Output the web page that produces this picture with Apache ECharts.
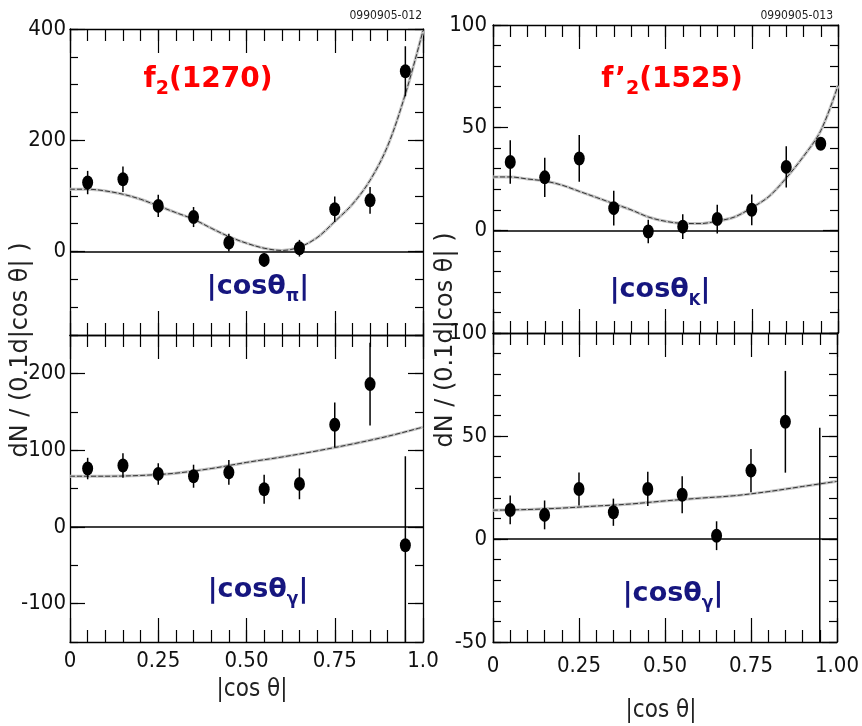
<!DOCTYPE html>
<html><head><meta charset="utf-8">
<script src="https://cdn.jsdelivr.net/npm/echarts@6/dist/echarts.min.js"></script>
<style>html,body{margin:0;padding:0;background:#fff}#c{width:862px;height:726px}</style>
</head><body><div id="c"></div>
<script>
// ---------- data ----------
const binX = [0.05,0.15,0.25,0.35,0.45,0.55,0.65,0.75,0.85,0.95];
const fitXFine = [0,0.05,0.1,0.15,0.2,0.25,0.3,0.35,0.4,0.45,0.5,0.55,0.6,0.65,0.7,0.75,0.8,0.85,0.9,0.95,1];
const fitXCoarse = [0,0.1,0.2,0.3,0.4,0.5,0.6,0.7,0.8,0.9,1];

// f2(1270), |cos theta_pi|
const f2PiVal   = [124,130,82,62,16,-15,6,76,92,324];
const f2PiErrUp = [21,23,20,18,16,12,15,23,24,45];
const f2PiErrDn = [21,23,20,18,16,12,15,23,24,45];
const f2PiFit   = [112,112,109,103,94,82,70,58,42,27,15,6,2,8,25,54,85,128,190,283,397];

// f2(1270), |cos theta_gamma|
const f2GamVal   = [76,80,69,66,71,49,56,133,186,-24];
const f2GamErrUp = [14,16,14,15,16,19,20,29,54,116];
const f2GamErrDn = [14,16,14,15,16,19,20,29,54,140];
const f2GamFit   = [66,66,67,70,76,84,91,99,108,118,130];

// f'2(1525), |cos theta_K|
const fp2KVal   = [33.3,25.8,35,10.8,-0.6,1.8,5.5,10,30.9,42.2];
const fp2KErrUp = [10.6,9.6,11.4,8.5,5.7,6,7,7.5,10,0];
const fp2KErrDn = [10.6,9.6,11.4,8.5,5.7,6,7,7.5,10,0];
const fp2KFit   = [26,26,25,24,22,19,16,13,10,6.5,4.4,3.4,3.3,4.5,6.5,11,16.5,25.5,36,48.5,70.5];

// f'2(1525), |cos theta_gamma|
const fp2GamVal   = [14.1,11.7,24.3,13,24.3,21.5,1.6,33.2,56.9,-60];
const fp2GamErrUp = [7,7,8,6.6,8.3,9,7,10.5,24.7,114];
const fp2GamErrDn = [7,7,8,6.6,8.3,9,7,10.5,24.7,114];
const fp2GamFit   = [14,14.3,15,16,17,18.5,19.8,21,23,25.5,28];

// tick labels
const xTickValues = [0,0.25,0.5,0.75,1];
const xTickLabelsLeft  = ['0','0.25','0.50','0.75','1.0'];
const xTickLabelsRight = ['0','0.25','0.50','0.75','1.00'];
const yTicksTL = [0,200,400];
const yTicksBL = [-100,0,100,200];
const yTicksTR = [0,50,100];
const yTicksBR = [-50,0,50,100];

// ---------- layout ----------
const fontNarrow = "'Liberation Sans Narrow','DejaVu Sans Condensed','Liberation Sans',sans-serif";
const panels = [
  {grid:{left:70, top:29, width:353, height:306}, yMin:-150, yMax:400, yMinor:50, yMajor:yTicksTL, yLabels:yTicksTL,
   xLabels:null, val:f2PiVal, up:f2PiErrUp, dn:f2PiErrDn, fitX:fitXFine, fit:f2PiFit, yMargin:4},
  {grid:{left:70, top:335, width:353, height:307}, yMin:-150, yMax:250, yMinor:50, yMajor:yTicksBL, yLabels:yTicksBL,
   xLabels:xTickLabelsLeft, xMargin:8, val:f2GamVal, up:f2GamErrUp, dn:f2GamErrDn, fitX:fitXCoarse, fit:f2GamFit, yMargin:4},
  {grid:{left:493, top:25, width:345, height:308}, yMin:-50, yMax:100, yMinor:10, yMajor:yTicksTR, yLabels:yTicksTR,
   xLabels:null, val:fp2KVal, up:fp2KErrUp, dn:fp2KErrDn, fitX:fitXFine, fit:fp2KFit, yMargin:6},
  {grid:{left:493, top:333, width:345, height:309}, yMin:-50, yMax:100, yMinor:10, yMajor:yTicksBR, yLabels:yTicksBR,
   xLabels:xTickLabelsRight, xMargin:13, val:fp2GamVal, up:fp2GamErrUp, dn:fp2GamErrDn, fitX:fitXCoarse, fit:fp2GamFit, yMargin:6}
];

const tickLine = {color:'#000', width:1.2};
const labelStyle = {fontSize:22, fontFamily:fontNarrow, color:'#111'};
const grids = [], xAxes = [], yAxes = [], series = [];

panels.forEach((p, g) => {
  grids.push(Object.assign({show:false, containLabel:false}, p.grid));
  const xb = {type:'value', gridIndex:g, min:0, max:1, splitLine:{show:false},
              axisLine:{show:true, onZero:false, lineStyle:{color:'#000', width:1.3}}, axisLabel:{show:false}};
  const xLab = p.xLabels ? Object.assign({show:true, customValues:xTickValues, margin:p.xMargin,
      formatter: v => { const i = xTickValues.findIndex(t => Math.abs(t - v) < 1e-6); return i >= 0 ? p.xLabels[i] : ''; }}, labelStyle)
      : {show:false};
  xAxes.push(Object.assign({}, xb, {position:'bottom', interval:0.05, axisTick:{inside:true, length:12, lineStyle:tickLine}, axisLabel:xLab}));
  xAxes.push(Object.assign({}, xb, {position:'bottom', axisLine:{show:false, onZero:false}, axisTick:{inside:true, length:24, customValues:xTickValues, lineStyle:tickLine}}));
  xAxes.push(Object.assign({}, xb, {position:'top', interval:0.05, axisTick:{inside:true, length:12, lineStyle:tickLine}}));
  xAxes.push(Object.assign({}, xb, {position:'top', axisLine:{show:false, onZero:false}, axisTick:{inside:true, length:24, customValues:xTickValues, lineStyle:tickLine}}));

  const yb = {type:'value', gridIndex:g, min:p.yMin, max:p.yMax, splitLine:{show:false},
              axisLine:{show:true, onZero:false, lineStyle:{color:'#000', width:1.3}}, axisLabel:{show:false}};
  yAxes.push(Object.assign({}, yb, {position:'left', interval:p.yMinor, axisTick:{inside:true, length:8, lineStyle:tickLine},
      axisLabel:Object.assign({show:true, customValues:p.yLabels, margin:p.yMargin, formatter: v => String(v)}, labelStyle)}));
  yAxes.push(Object.assign({}, yb, {position:'left', axisLine:{show:false, onZero:false}, axisTick:{inside:true, length:15, customValues:p.yMajor, lineStyle:tickLine}}));
  yAxes.push(Object.assign({}, yb, {position:'right', interval:p.yMinor, axisTick:{inside:true, length:8, lineStyle:tickLine}}));
  yAxes.push(Object.assign({}, yb, {position:'right', axisLine:{show:false, onZero:false}, axisTick:{inside:true, length:15, customValues:p.yMajor, lineStyle:tickLine}}));

  const xi = 4 * g, yi = 4 * g;
  const fitData = p.fitX.map((x, i) => [x, p.fit[i]]);
  series.push({type:'line', xAxisIndex:xi, yAxisIndex:yi, data:fitData, smooth:0.35, showSymbol:false, silent:true,
               lineStyle:{color:'#c4c4c4', width:3}, z:2});
  series.push({type:'line', xAxisIndex:xi, yAxisIndex:yi, data:fitData, smooth:0.35, showSymbol:false, silent:true,
               lineStyle:{color:'#333', width:1, type:[5,2]}, z:3});
  series.push({type:'custom', xAxisIndex:xi, yAxisIndex:yi, clip:true, silent:true, z:4,
    data: binX.map((x, i) => [x, p.val[i] - p.dn[i], p.val[i] + p.up[i]]),
    encode:{x:0, y:[1,2]},
    renderItem: (params, api) => {
      const a = api.coord([api.value(0), api.value(1)]);
      const b = api.coord([api.value(0), api.value(2)]);
      return {type:'line', shape:{x1:a[0], y1:a[1], x2:b[0], y2:b[1]}, style:{stroke:'#000', lineWidth:1.5}};
    }});
  series.push({type:'scatter', xAxisIndex:xi, yAxisIndex:yi, clip:true, silent:true, z:5,
    data: binX.map((x, i) => [x, p.val[i]]), symbol:'circle', symbolSize:[11,14], itemStyle:{color:'#000', opacity:1},
    markLine:{silent:true, symbol:['none','none'], label:{show:false}, lineStyle:{color:'#000', width:1.5, type:'solid'},
              data:[{yAxis:0}]}});
});

const red = '#ff0000', navy = '#16167f';
const annFont = "'Comic Sans MS','DejaVu Sans',sans-serif";
function richTitle(x, y, main1, sub, main2, color, size, subSize) {
  return {type:'text', x:x, y:y, z:100, style:{
    text:'{a|' + main1 + '}{s|' + sub + '}{a|' + main2 + '}',
    align:'center', verticalAlign:'middle',
    rich:{
      a:{fontSize:size, fontWeight:'bold', fontFamily:annFont, fill:color, color:color, lineHeight:size + 2},
      s:{fontSize:subSize, fontWeight:'bold', fontFamily:annFont, fill:color, color:color, verticalAlign:'bottom', lineHeight:size + 10}
    }}};
}
const yTitle = 'dN / (0.1d|cos θ| )';
const graphic = [
  {type:'text', x:422, y:16, style:{text:'0990905-012', align:'right', verticalAlign:'middle', fontSize:12, fontFamily:fontNarrow, fill:'#222'}},
  {type:'text', x:833, y:16, style:{text:'0990905-013', align:'right', verticalAlign:'middle', fontSize:12, fontFamily:fontNarrow, fill:'#222'}},
  richTitle(208, 80, 'f', '2', '(1270)', red, 28, 19),
  richTitle(672, 80, 'f\u2019', '2', '(1525)', red, 28, 19),
  richTitle(258, 287, '|cosθ', 'π', '|', navy, 27, 17),
  richTitle(660, 290, '|cosθ', 'K', '|', navy, 27, 15),
  richTitle(258, 590, '|cosθ', 'γ', '|', navy, 27, 17),
  richTitle(673, 594, '|cosθ', 'γ', '|', navy, 27, 17),
  {type:'text', x:21, y:350, rotation:Math.PI/2, style:{text:yTitle, align:'center', verticalAlign:'middle', fontSize:24, fontFamily:"'DejaVu Sans',sans-serif", fill:'#222'}},
  {type:'text', x:446, y:340, rotation:Math.PI/2, style:{text:yTitle, align:'center', verticalAlign:'middle', fontSize:24, fontFamily:"'DejaVu Sans',sans-serif", fill:'#222'}},
  {type:'text', x:252, y:690, style:{text:'|cos θ|', align:'center', verticalAlign:'middle', fontSize:24, fontFamily:fontNarrow, fill:'#222'}},
  {type:'text', x:661, y:711, style:{text:'|cos θ|', align:'center', verticalAlign:'middle', fontSize:24, fontFamily:fontNarrow, fill:'#222'}}
];

const chart = echarts.init(document.getElementById('c'), null, {renderer:'canvas'});
chart.setOption({animation:false, backgroundColor:'#fff', grid:grids, xAxis:xAxes, yAxis:yAxes, series:series, graphic:graphic});
</script></body></html>
